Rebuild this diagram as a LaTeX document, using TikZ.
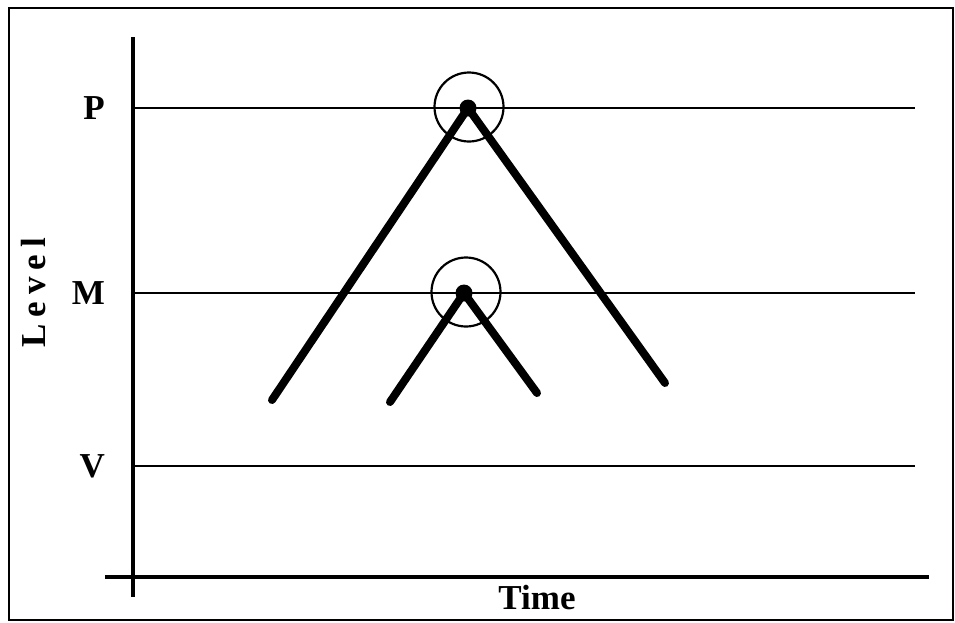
\documentclass[tikz,border=0pt]{standalone}
\usepackage{fontspec}
\setmainfont{Liberation Serif}
\usetikzlibrary{positioning}

\begin{document}
\begin{tikzpicture}[
    x=1pt,y=-1pt,
    axis/.style={line width=4.5pt},
    levelline/.style={line width=1.3pt},
    branch/.style={line width=8pt,line cap=round},
    ring/.style={draw,circle,line width=2.2pt,minimum size=69pt,inner sep=0pt},
    knot/.style={fill,circle,minimum size=17pt,inner sep=0pt},
    lbl/.style={font=\fontsize{35}{35}\selectfont\bfseries,inner sep=0pt}
  ]
    \useasboundingbox (0,0) rectangle (955,622);
    \draw[line width=2.2pt] (9,8) rectangle (953,620);

    % axes
    \coordinate (ytop) at (133,37);
    \coordinate (ybot) at (133,597);
    \coordinate (xleft) at (105,577);
    \coordinate (xright) at (929,577);
    \draw[axis] (ytop) -- (ybot);
    \draw[axis] (xleft) -- (xright);

    % levels
    \foreach \name/\y in {P/108,M/293,V/466} {
      \coordinate (\name-start) at (133,\y);
      \coordinate (\name-end) at (915,\y);
      \draw[levelline] (\name-start) -- (\name-end);
      \node[lbl,left=28pt of \name-start] (\name-label) {\name};
    }

    \node[lbl,rotate=90] (level) at (34,293) {\addfontfeature{LetterSpace=20}Level};
    \node[lbl] (time) at (537,598) {Time};

    % branches
    \node[knot] (outer) at (468,108) {};
    \node[knot] (inner) at (464,293) {};
    \coordinate (outer-left) at (272,400);
    \coordinate (outer-right) at (665,383);
    \coordinate (inner-left) at (390,402);
    \coordinate (inner-right) at (537,393);
    \draw[branch] (outer-left) -- (outer.center) -- (outer-right);
    \draw[branch] (inner-left) -- (inner.center) -- (inner-right);

    \node[ring] (outer-ring) at (469,107) {};
    \node[ring] (inner-ring) at (466,292) {};
  \end{tikzpicture}
\end{document}
